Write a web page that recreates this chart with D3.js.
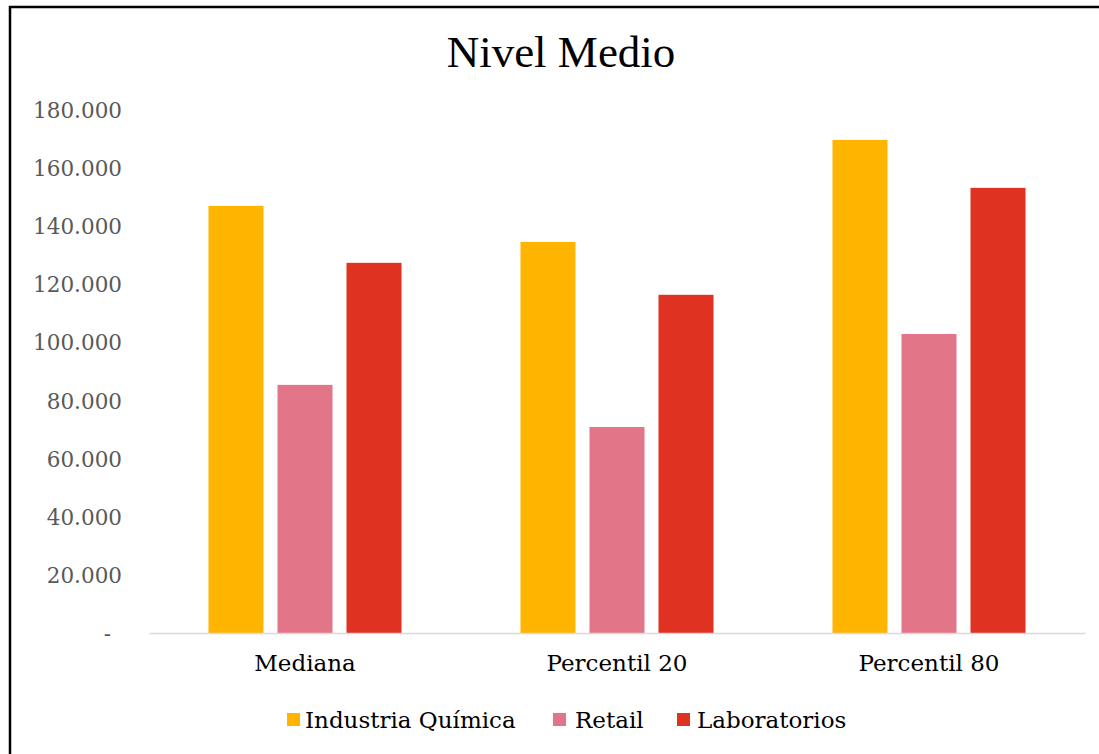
<!DOCTYPE html>
<html>
<head>
<meta charset="utf-8">
<script src="https://cdn.jsdelivr.net/npm/d3@7"></script>
<style>
  html, body { margin: 0; padding: 0; background: #fff; }
  svg { display: block; }
</style>
</head>
<body>
<svg id="chart" width="1099" height="754"></svg>
<script>
const categories = ["Mediana", "Percentil 20", "Percentil 80"];
const seriesNames = ["Industria Química", "Retail", "Laboratorios"];
const industriaQuimica = [147000, 134600, 169700];
const retail = [85400, 70900, 102900];
const laboratorios = [127400, 116400, 153200];
const yTicks = [0, 20000, 40000, 60000, 80000, 100000, 120000, 140000, 160000, 180000];
const colors = ["#FFB500", "#E27588", "#E03220"];
const title = "Nivel Medio";

const seriesValues = [industriaQuimica, retail, laboratorios];
const data = categories.map((c, i) => ({
  category: c,
  values: seriesNames.map((s, j) => ({ series: s, value: seriesValues[j][i] }))
}));

const svg = d3.select("#chart");
const fontFamily = "'DejaVu Serif', 'Liberation Serif', serif";

// outer border (top + left visible)
svg.append("rect")
  .attr("x", 10).attr("y", 7)
  .attr("width", 1200).attr("height", 900)
  .attr("fill", "none").attr("stroke", "#000").attr("stroke-width", 2.5);

const plot = { left: 149, right: 1085, top: 110, bottom: 633 };

const x0 = d3.scaleBand().domain(categories).range([plot.left, plot.right]).paddingInner(0).paddingOuter(0);
const x1 = d3.scaleBand().domain(seriesNames).range([0, x0.bandwidth()]).paddingInner(0.203).paddingOuter(0.862);
const y = d3.scaleLinear().domain([0, 180000]).range([plot.bottom, plot.top]);
const color = d3.scaleOrdinal().domain(seriesNames).range(colors);

// title
svg.append("text")
  .attr("x", 561).attr("y", 67)
  .attr("text-anchor", "middle")
  .attr("font-family", "'Liberation Serif', serif")
  .attr("font-size", 45)
  .attr("fill", "#000")
  .text(title);

// y axis
const fmt = v => v === 0 ? "-" : d3.format(",")(v).replace(/,/g, ".");
const yAxis = svg.append("g")
  .attr("transform", `translate(${plot.left - 27},0)`)
  .call(d3.axisLeft(y).tickValues(yTicks).tickFormat(fmt).tickSize(0).tickPadding(0));
yAxis.select(".domain").remove();
yAxis.selectAll("text")
  .attr("font-family", fontFamily)
  .attr("font-size", 21.5)
  .attr("fill", "#595959")
  .attr("dy", "0.35em");
yAxis.selectAll(".tick").filter(d => d === 0).select("text").attr("dx", -11);

// bars
const groups = svg.append("g").selectAll("g")
  .data(data).join("g")
  .attr("transform", d => `translate(${x0(d.category)},0)`);
groups.selectAll("rect")
  .data(d => d.values).join("rect")
  .attr("x", d => x1(d.series))
  .attr("y", d => y(d.value))
  .attr("width", x1.bandwidth())
  .attr("height", d => y(0) - y(d.value))
  .attr("fill", d => color(d.series));

// x axis baseline
const xAxis = svg.append("g")
  .attr("transform", `translate(0,${plot.bottom})`)
  .call(d3.axisBottom(x0).tickSize(0).tickPadding(22));
xAxis.select(".domain").attr("stroke", "#D9D9D9").attr("stroke-width", 1.5);
xAxis.selectAll("text")
  .attr("font-family", fontFamily)
  .attr("font-size", 23)
  .attr("fill", "#000");

// legend
const legendItems = [
  { name: seriesNames[0], sx: 287, tx: 305 },
  { name: seriesNames[1], sx: 553, tx: 575 },
  { name: seriesNames[2], sx: 677, tx: 697 }
];
const legend = svg.append("g");
const li = legend.selectAll("g").data(legendItems).join("g");
li.append("rect")
  .attr("x", d => d.sx).attr("y", 713)
  .attr("width", 13).attr("height", 13)
  .attr("fill", d => color(d.name));
li.append("text")
  .attr("x", d => d.tx).attr("y", 720)
  .attr("dy", "0.35em")
  .attr("font-family", fontFamily)
  .attr("font-size", 23)
  .attr("fill", "#000")
  .text(d => d.name);
</script>
</body>
</html>
